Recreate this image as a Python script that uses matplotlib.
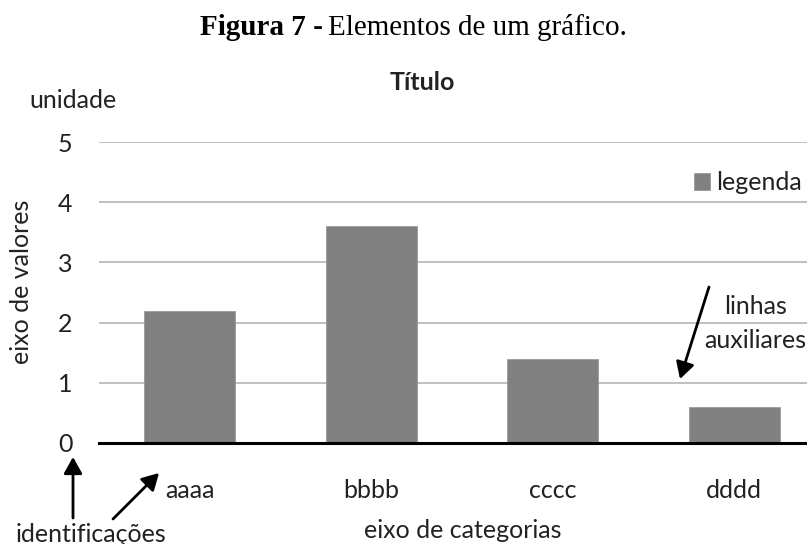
import matplotlib
matplotlib.use("Agg")
import matplotlib.pyplot as plt

categories = ["aaaa", "bbbb", "cccc", "dddd"]
values = [2.2, 3.6, 1.4, 0.6]
yticks = [0, 1, 2, 3, 4, 5]

W, H = 807, 544
fig = plt.figure(figsize=(W / 100, H / 100), dpi=100)

SANS = ["Lato", "DejaVu Sans"]
SERIF = ["Liberation Serif", "DejaVu Serif"]
FS = 18
TXT = "#222222"

def fx(x):
    return x / W

def fy(y):
    return 1 - y / H

ax_left, ax_right, ax_top, ax_bottom = 99, 807, 142, 443
ax = fig.add_axes([fx(ax_left), fy(ax_bottom), (ax_right - ax_left) / W, (ax_bottom - ax_top) / H])
ax.bar(range(len(categories)), values, width=0.5, color="#808080", zorder=3,
       edgecolor="#9a9a9a", linewidth=0.6, label="legenda")
ax.set_xlim(-0.5, -0.5 + (ax_right - ax_left) / 181.5)
ax.set_ylim(0, 5)
ax.set_yticks(yticks)
ax.set_yticklabels([str(v) for v in yticks], fontfamily=SANS, fontsize=FS, color=TXT)
ax.set_xticks(range(len(categories)))
ax.set_xticklabels(categories, fontfamily=SANS, fontsize=FS, color=TXT)
ax.tick_params(axis="y", length=0, pad=19)
ax.tick_params(axis="x", length=0, pad=26)
ax.yaxis.grid(True, color="#b5b5b5", linewidth=1.2, zorder=0)
for s in ["top", "right", "left"]:
    ax.spines[s].set_visible(False)
ax.spines["bottom"].set_color("black")
ax.spines["bottom"].set_linewidth(2.2)
ax.spines["bottom"].set_zorder(4)

leg = ax.legend(loc="upper right", bbox_to_anchor=(fx(812), fy(161)), bbox_transform=fig.transFigure,
                frameon=False, prop={"family": SANS, "size": FS}, handlelength=0.65, handleheight=0.65,
                handletextpad=0.25, borderaxespad=0)
for t in leg.get_texts():
    t.set_color(TXT)

# captions
fig.text(fx(323), fy(35), "Figura 7 -", fontfamily=SERIF, fontweight="bold", fontsize=21,
         ha="right", va="baseline")
fig.text(fx(328), fy(35), "Elementos de um gráfico.", fontfamily=SERIF, fontsize=21,
         ha="left", va="baseline")
fig.text(fx(422), fy(82), "Título", fontfamily=SANS, fontweight="bold", fontsize=FS,
         ha="center", va="center", color=TXT)
fig.text(fx(29), fy(100), "unidade", fontfamily=SANS, fontsize=FS, ha="left", va="center", color=TXT)
fig.text(fx(22), fy(282), "eixo de valores", fontfamily=SANS, fontsize=FS, rotation=90,
         ha="center", va="center", color=TXT)
fig.text(fx(463), fy(531), "eixo de categorias", fontfamily=SANS, fontsize=FS, ha="center",
         va="center", color=TXT)
fig.text(fx(16), fy(542), "identificações", fontfamily=SANS, fontsize=FS, ha="left",
         va="baseline", color=TXT)
fig.text(fx(756), fy(307), "linhas", fontfamily=SANS, fontsize=FS, ha="center", va="center", color=TXT)
fig.text(fx(806), fy(340), "auxiliares", fontfamily=SANS, fontsize=FS, ha="right", va="center", color=TXT)

def arrow(x0, y0, x1, y1):
    fig.add_artist(matplotlib.patches.FancyArrowPatch(
        (fx(x0), fy(y0)), (fx(x1), fy(y1)), transform=fig.transFigure,
        arrowstyle="-|>,head_length=5,head_width=2.8", color="black", linewidth=2.0,
        shrinkA=0, shrinkB=0, mutation_scale=2))

arrow(709, 287, 680, 379)
arrow(73, 518, 73, 457)
arrow(113, 519, 159, 473)

fig.savefig("out.png", dpi=100)
